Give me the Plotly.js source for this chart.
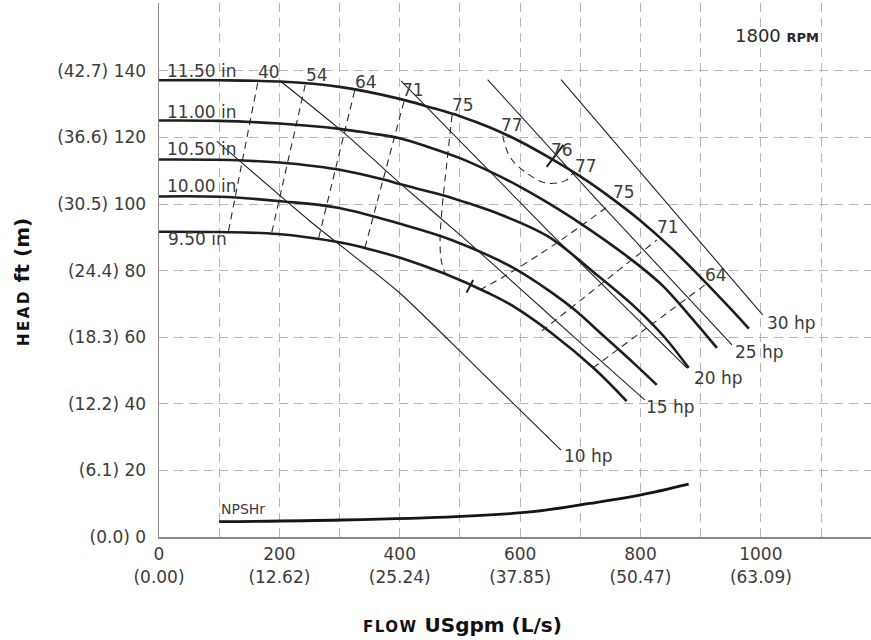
<!DOCTYPE html>
<html>
<head>
<meta charset="utf-8">
<script src="https://cdn.plot.ly/plotly-3.0.1.min.js"></script>
<style>html,body{margin:0;padding:0;background:#fff;}#chart{width:871px;height:640px;}</style>
</head>
<body>
<div id="chart"></div>
<script>
// ---------- Data ----------
// Impeller diameter head curves: flow (USgpm) vs head (ft)
const d1150X = [0,100,200,300,400,450,500,550,600,650,700,750,800,850,900,950,980];
const d1150Y = [137.2,137.2,136.8,135.2,131.6,129.1,126.4,123,118.8,113.8,108.3,102,95,87,78,68.5,62.6];
const d1100X = [0,100,200,300,350,400,450,500,552,600,647,702,780,835,880,927];
const d1100Y = [125.1,125,124.2,122.6,121.3,119.8,117.0,113.8,109.6,105.2,100.3,94,84,75.8,66.8,56.8];
const d1050X = [0,100,200,263,300,373,400,473,513,568,647,723,790,840,880];
const d1050Y = [113.4,113.3,112.5,111.3,110.3,107.4,106,102.6,100.3,96.8,90.2,79.4,69.2,60,50.8];
const d1000X = [0,100,207,297,402,485,585,652,690,740,790,827];
const d1000Y = [102.3,102.2,100.8,98.9,94,89.3,81.2,73.5,68.3,60.2,52,45.7];
const d950X  = [0,100,197,297,340,402,473,547,585,652,723,777];
const d950Y  = [91.7,91.6,91.0,88.6,86.9,83.8,79.2,73.3,69.7,61.3,50.6,40.8];
const diaLabels = ["11.50 in","11.00 in","10.50 in","10.00 in","9.50 in"];
const diaLabelX = [10,10,10,10,11];
const diaLabelY = [139.9,127.8,116.5,105.5,89.4];

// Power lines
const hp10X = [96,250,400,530,668];   const hp10Y = [118.9,95,73.3,50.5,26.1];
const hp15X = [202,306,400,505,600,700,807]; const hp15Y = [136.9,121.6,106.3,90,74.6,58.4,41.2];
const hp20X = [402,650,877];          const hp20Y = [137,91.3,50.8];
const hp25X = [546,728,952];          const hp25Y = [137.4,101.2,57.7];
const hp30X = [668,840,1003];         const hp30Y = [137.4,101.2,66.7];
const hpLabels = ["10 hp","15 hp","20 hp","25 hp","30 hp"];
const hpLabelX = [670,806,885,954,1007];
const hpLabelY = [24.2,39,47.8,55.6,64.3];

// Efficiency contours (%)
const e40X = [164,115];  const e40Y = [136.4,91.5];
const e54X = [243,187];  const e54Y = [135.8,91.2];
const e64X = [325,265];  const e64Y = [134,89.6];
const e71X = [407,342];  const e71Y = [130.8,86.8];
const e75LX = [487,478,470,467,469,475]; const e75LY = [126.8,112,98,89.2,83,79.2];
const e75RX = [533,583,650,700,749];     const e75RY = [74.2,79.3,87,93.3,99.7];
const e71RX = [636,827]; const e71RY = [61.9,89.2];
const e64RX = [721,907]; const e64RY = [50.8,75.7];
const e77X = [571,583,611,644,677,688];  const e77Y = [120.6,114.2,109.3,106.3,107.2,109.5];
const bep1X = [644,672]; const bep1Y = [111.2,117.8];
const bep2X = [511,522]; const bep2Y = [73.4,77.2];
const effLabels = ["40","54","64","71","75","77","76","77","75","71","64"];
const effLabelX = [182,262,344,422,505,587,669,709,772,846,926];
const effLabelY = [139.8,138.8,136.8,134.3,129.8,123.8,116.3,111.4,103.7,93.2,78.7];

// NPSHr curve
const npshX = [100,303,494,621,716,799,880];
const npshY = [4.6,5.1,6.1,7.6,10.1,12.6,15.9];

// Axis ticks
const xTickVals = [0,100,200,300,400,500,600,700,800,900,1000,1100];
const xTickText = ["0","","200","","400","","600","","800","","1000",""];
const xMetricVals = [0,200,400,600,800,1000];
const xMetricText = ["(0.00)","(12.62)","(25.24)","(37.85)","(50.47)","(63.09)"];
const yTickVals = [0,20,40,60,80,100,120,140];
const yTickText = ["(0.0) 0","(6.1) 20","(12.2) 40","(18.3) 60","(24.4) 80","(30.5) 100","(36.6) 120","(42.7) 140"];

// ---------- Styles ----------
const FONT = "DejaVu Sans";
const TXT = "#3c3c3c";
const GRID = "#b5b5b5";
const thick = {color:"#1e1e1e", width:2.6, shape:"spline", smoothing:1};
const thin  = {color:"#222", width:1.1};
const dashed = {color:"#2a2a2a", width:1.1, dash:"7px,5px"};

function tr(x, y, line, extra) {
  return Object.assign({type:"scatter", mode:"lines", x:x, y:y, line:line,
    hoverinfo:"skip", showlegend:false}, extra || {});
}

const traces = [
  tr(e40X, e40Y, dashed), tr(e54X, e54Y, dashed), tr(e64X, e64Y, dashed), tr(e71X, e71Y, dashed),
  tr(e75LX, e75LY, Object.assign({shape:"spline"}, dashed)),
  tr(e75RX, e75RY, Object.assign({shape:"spline"}, dashed)),
  tr(e71RX, e71RY, dashed), tr(e64RX, e64RY, dashed),
  tr(e77X, e77Y, Object.assign({shape:"spline"}, dashed)),
  tr(hp10X, hp10Y, Object.assign({shape:"spline", smoothing:0.6}, thin)),
  tr(hp15X, hp15Y, Object.assign({shape:"spline", smoothing:0.6}, thin)),
  tr(hp20X, hp20Y, thin), tr(hp25X, hp25Y, thin), tr(hp30X, hp30Y, thin),
  tr(d1150X, d1150Y, thick), tr(d1100X, d1100Y, thick), tr(d1050X, d1050Y, thick),
  tr(d1000X, d1000Y, thick), tr(d950X, d950Y, thick),
  tr(bep1X, bep1Y, {color:"#1e1e1e", width:2}), tr(bep2X, bep2Y, {color:"#1e1e1e", width:2}),
  tr(npshX, npshY, {color:"#151515", width:2.8, shape:"spline", smoothing:1}, {xaxis:"x2"})
];

const ann = [];
diaLabels.forEach((t,i) => ann.push({x:diaLabelX[i], y:diaLabelY[i], text:t, xanchor:"left", yanchor:"middle",
  showarrow:false, font:{family:FONT, size:17, color:TXT}}));
effLabels.forEach((t,i) => ann.push({x:effLabelX[i], y:effLabelY[i], text:t, xanchor:"center", yanchor:"middle",
  showarrow:false, font:{family:FONT, size:17, color:TXT}}));
hpLabels.forEach((t,i) => ann.push({x:hpLabelX[i], y:hpLabelY[i], text:t, xanchor:"left", yanchor:"middle",
  showarrow:false, font:{family:FONT, size:17, color:TXT}}));
ann.push({x:100, y:5.4, text:"NPSHr", xanchor:"left", yanchor:"bottom", showarrow:false,
  font:{family:FONT, size:14, color:TXT}});
ann.push({x:1026, y:150.5, text:"1800 <b><span style='font-size:13px'>RPM</span></b>", xanchor:"center", yanchor:"middle",
  showarrow:false, font:{family:FONT, size:18, color:"#2a2a2a"}});
ann.push({xref:"paper", yref:"paper", x:0.4256, y:-0.165, xanchor:"center", yanchor:"middle",
  text:"<b><span style='font-size:15px;letter-spacing:1.5px'>FLOW</span> USgpm (L/s)</b>", showarrow:false,
  font:{family:FONT, size:20, color:"#111"}});
ann.push({xref:"paper", yref:"paper", x:-0.1924, y:0.4775, xanchor:"center", yanchor:"middle", textangle:-90,
  text:"<b><span style='font-size:15px;letter-spacing:2.5px'>HEAD</span> ft (m)</b>", showarrow:false,
  font:{family:FONT, size:20, color:"#111"}});

const layout = {
  width:871, height:640,
  margin:{l:159, r:0, t:3, b:103, pad:0},
  paper_bgcolor:"#fff", plot_bgcolor:"#fff",
  showlegend:false,
  xaxis:{range:[0,1183], tickmode:"array", tickvals:xTickVals, ticktext:xTickText,
    showgrid:true, gridcolor:GRID, gridwidth:1, griddash:"9px,6px",
    showline:true, linecolor:"#8c8c8c", linewidth:1.5, zeroline:false, ticks:"",
    ticklabelstandoff:1, tickfont:{family:FONT, size:17, color:TXT}, fixedrange:true},
  xaxis2:{range:[0,1183], overlaying:"x", anchor:"y", side:"bottom", tickmode:"array",
    tickvals:xMetricVals, ticktext:xMetricText, showgrid:false, showline:false, zeroline:false, ticks:"",
    ticklabelstandoff:28, tickfont:{family:FONT, size:17, color:TXT}, fixedrange:true},
  yaxis:{range:[0,160.4], tickmode:"array", tickvals:yTickVals, ticktext:yTickText,
    showgrid:true, gridcolor:GRID, gridwidth:1, griddash:"9px,6px",
    showline:true, linecolor:"#8c8c8c", linewidth:1.5, zeroline:false, ticks:"",
    ticklabelstandoff:8, tickfont:{family:FONT, size:17, color:TXT}, fixedrange:true},
  annotations:ann
};

Plotly.newPlot("chart", traces, layout, {staticPlot:true, displayModeBar:false});
</script>
</body>
</html>
